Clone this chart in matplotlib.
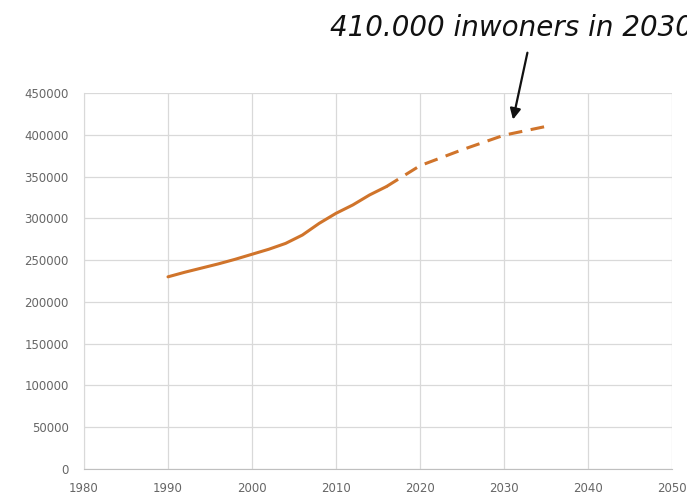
import matplotlib.pyplot as plt

# inwoners, gemeten (doorgetrokken lijn)
years_obs = [1990, 1992, 1994, 1996, 1998, 2000, 2002, 2004, 2006, 2008,
             2010, 2012, 2014, 2016]
pop_obs = [230000, 235500, 240500, 245500, 251000, 257000, 263000, 270000,
           280000, 294000, 306000, 316000, 328000, 338000]

# prognose (stippellijn)
years_prog = [2016, 2020, 2025, 2030, 2035]
pop_prog = [338000, 363000, 382000, 399500, 410000]

x_ticks = list(range(1980, 2051, 10))
y_ticks = list(range(0, 450001, 50000))

orange = '#D0742B'

fig = plt.figure(figsize=(6.87, 4.98), dpi=100)
ax = fig.add_axes([84 / 687, 29 / 498, 588 / 687, 376 / 498])

ax.plot(years_obs, pop_obs, color=orange, linewidth=2.2,
        solid_capstyle='round')
ax.plot(years_prog, pop_prog, color=orange, linewidth=2.2,
        linestyle=(0, (4.5, 2.8)))

ax.set_xlim(1980, 2050)
ax.set_ylim(0, 450000)
ax.set_xticks(x_ticks)
ax.set_yticks(y_ticks)
ax.tick_params(length=0, labelsize=8.5, colors='#666666')
ax.tick_params(axis='y', pad=11)
ax.tick_params(axis='x', pad=9)
ax.grid(True, color='#D9D9D9', linewidth=0.9)
ax.set_axisbelow(True)
for s in ['top', 'right']:
    ax.spines[s].set_visible(False)
ax.spines['left'].set_color('#D9D9D9')
ax.spines['bottom'].set_color('#BFBFBF')

fig.text(330 / 687, 1 - 28 / 498, '410.000 inwoners in 2030',
         fontsize=20, style='italic', color='#111111', va='center', ha='left')
ax.annotate('', xy=(2031.0, 415000), xycoords='data',
            xytext=(528 / 687, 1 - 50 / 498), textcoords='figure fraction',
            arrowprops=dict(arrowstyle='-|>', color='#111111', lw=1.6,
                            mutation_scale=16),
            annotation_clip=False)

fig.savefig('out.png', dpi=100)
